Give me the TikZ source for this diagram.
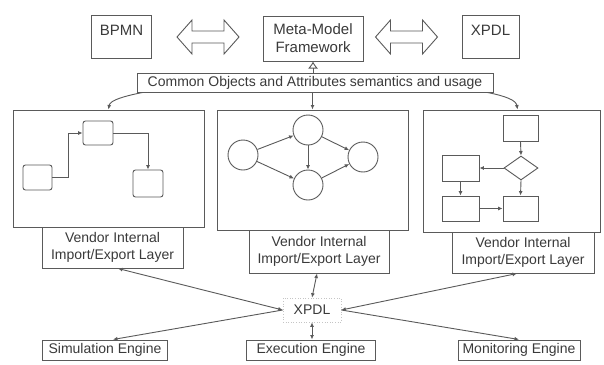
\documentclass[tikz,border=0pt]{standalone}
\usepackage{fontspec}
\setmainfont{Liberation Sans}
\usetikzlibrary{arrows.meta,shapes.geometric}
\definecolor{lc}{HTML}{5A5A5A}
\definecolor{tc}{HTML}{3A3A3A}
\begin{document}
\begin{tikzpicture}[x=1pt,y=-1pt,
 box/.style={draw=lc,line width=1pt,inner sep=0pt,text=tc,font=\fontsize{14}{17}\selectfont,align=center},
 bigtxt/.style={font=\fontsize{15}{18}\selectfont},
 shp/.style={draw=lc,line width=0.9pt,inner sep=0pt},
 rbox/.style={shp,rounded corners=2.5pt},
 circ/.style={shp,circle,minimum size=30pt},
 conn/.style={draw=lc,line width=0.9pt},
 tip/.style={-{Latex[length=4.5pt,width=4pt]}},
 tips/.style={{Latex[length=4.5pt,width=4pt]}-{Latex[length=4.5pt,width=4pt]}},
 dblarrow/.style={draw=lc,line width=0.9pt,fill=white}
]
\useasboundingbox (0,0) rectangle (604,364);
\fill[white] (0,0) rectangle (604,364);

% top row
\node[box,bigtxt,minimum width=60pt,minimum height=43pt,text depth=13pt] (bpmn) at (121.5,36.5) {BPMN};
\node[box,bigtxt,minimum width=100pt,minimum height=45pt] (meta) at (313,38.5) {Meta-Model\\Framework};
\node[box,bigtxt,minimum width=57pt,minimum height=43pt,text depth=13pt] (xpdlt) at (490.5,36.5) {XPDL};

\foreach \a in {177,375.5}{
  \draw[dblarrow] (\a,37) -- ++(15,-17) -- ++(0,11) -- ++(32,0) -- ++(0,-11) -- ++(15,17)
    -- ++(-15,17) -- ++(0,-11) -- ++(-32,0) -- ++(0,11) -- cycle;
}

% common objects
\node[box,minimum width=356pt,minimum height=19pt] (common) at (315,82.5) {Common Objects and Attributes semantics and usage};
\draw[conn,-{Latex[open,length=7pt,width=10pt]}] (meta.south |- common.north) -- (meta.south);

% panels
\node[box,minimum width=191pt,minimum height=117pt] (p1) at (108.5,168.5) {};
\node[box,minimum width=141pt,minimum height=41pt] (v1) at (112.5,247.5) {Vendor Internal\\Import/Export Layer};
\node[box,minimum width=191pt,minimum height=120pt] (p2) at (312.5,170) {};
\node[box,minimum width=140pt,minimum height=43pt] (v2) at (319,251.5) {Vendor Internal\\Import/Export Layer};
\node[box,minimum width=177pt,minimum height=122pt] (p3) at (511.5,171) {};
\node[box,minimum width=142pt,minimum height=41pt] (v3) at (523,252.5) {Vendor Internal\\Import/Export Layer};

% arrows from common objects
\draw[conn,tip] ([xshift=6pt]common.south west) .. controls (125,96) and (110,100) .. (p1.north);
\draw[conn,tip] (p2.north |- common.south) -- (p2.north);
\draw[conn,tip] ([xshift=-6pt]common.south east) .. controls (505,96) and (516,100) .. ([xshift=6pt]p3.north);

% left panel content
\node[rbox,minimum width=29pt,minimum height=25pt] (a1) at (37.5,177.5) {};
\node[rbox,minimum width=30pt,minimum height=24pt] (a2) at (98,133) {};
\node[rbox,minimum width=30pt,minimum height=27pt] (a3) at (148,183.5) {};
\draw[conn,tip] (a1.east) -- ++(16,0) |- (a2.west);
\draw[conn,tip] (a2.east) -| (a3.north);

% middle panel content
\node[circ] (c1) at (243,155) {};
\node[circ] (c2) at (308,130) {};
\node[circ] (c3) at (308,185) {};
\node[circ] (c4) at (363,157) {};
\draw[conn,tip] (c1) -- (c2);
\draw[conn,tip] (c1) -- (c3);
\draw[conn,tip] (c2) -- (c3);
\draw[conn,tip] (c2) -- (c4);
\draw[conn,tip] (c3) -- (c4);

% right panel content
\node[shp,minimum width=35pt,minimum height=26pt] (f1) at (520.5,128) {};
\node[shp,diamond,minimum width=34pt,minimum height=24pt] (f2) at (521,168) {};
\node[shp,minimum width=37pt,minimum height=26pt] (f3) at (460.5,168) {};
\node[shp,minimum width=37pt,minimum height=25pt] (f4) at (460.5,208.5) {};
\node[shp,minimum width=35pt,minimum height=25pt] (f5) at (520.5,208.5) {};
\draw[conn,tip] (f1.south) -- (f2.north);
\draw[conn,tip] (f2.west) -- (f3.east);
\draw[conn,tip] (f2.south) -- (f5.north);
\draw[conn,tip] (f3.south) -- (f4.north);
\draw[conn,tip] (f4.east) -- (f5.west);

% bottom
\node[draw=lc!35,dotted,line width=0.6pt,inner sep=0pt,minimum width=58pt,minimum height=24pt,text=tc,font=\fontsize{14}{17}\selectfont] (xb) at (312,310) {XPDL};
\node[box,minimum width=125pt,minimum height=20pt] (sim) at (105,350) {Simulation Engine};
\node[box,minimum width=129pt,minimum height=20pt] (exe) at (311,350) {Execution Engine};
\node[box,minimum width=122pt,minimum height=20pt] (mon) at (519,350) {Monitoring Engine};

\draw[conn,tips] ([xshift=5.5pt]v1.south) -- (xb.west);
\draw[conn,tips] ([xshift=-2pt]v2.south) -- (xb.north);
\draw[conn,tips] ([xshift=-6pt]v3.south) -- (xb.east);
\draw[conn,tip] (xb.west) -- ([xshift=8pt]sim.north);
\draw[conn,tip] (xb.east) -- (mon.north);
\draw[conn,tips] (xb.south) -- (xb.south |- exe.north);
\end{tikzpicture}
\end{document}
